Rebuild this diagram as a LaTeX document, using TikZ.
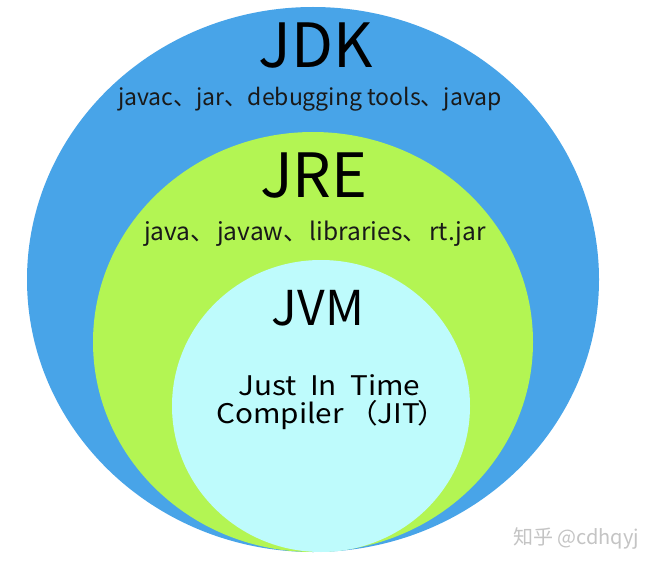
\documentclass[tikz,border=0pt]{standalone}
\usepackage{fontspec}
\setmainfont{Noto Sans CJK SC}
\newfontfamily\widefont[FakeStretch=1.1]{Noto Sans CJK SC}
\definecolor{jdkblue}{HTML}{48A4E8}
\definecolor{jregreen}{HTML}{B3F553}
\definecolor{jvmcyan}{HTML}{BEFBFC}
\definecolor{wmgray}{HTML}{C4C4C4}
\tikzset{
  title/.style={anchor=base, inner sep=0pt, text=black, font=\fontsize{61}{61}\selectfont},
  subtitle/.style={anchor=base, inner sep=0pt, text=black!90, font=\fontsize{23}{23}\selectfont},
  jvmtext/.style={anchor=base west, inner sep=0pt, text=black, font=\widefont\fontsize{27}{27}\selectfont},
  wmark/.style={anchor=base, inner sep=0pt, text=wmgray, font=\fontsize{20}{20}\selectfont}
}
\begin{document}
\begin{tikzpicture}[x=1pt,y=-1pt]
\useasboundingbox (0,0) rectangle (653,567);
\fill[white] (0,0) rectangle (653,567);
\fill[jdkblue] (313,279.5) ellipse [x radius=286pt, y radius=272.5pt];
\fill[jregreen] (313,342) ellipse [x radius=220pt, y radius=210pt];
\fill[jvmcyan] (321,406) ellipse [x radius=149pt, y radius=146pt];
\node[title] (jdk) at (316,68) {JDK};
\node[subtitle] (jdktools) at (310,106) {javac、jar、debugging tools、javap};
\node[title] (jre) at (314,197) {JRE};
\node[subtitle, anchor=base west, font=\fontsize{24.5}{24.5}\selectfont] (jretools) at (144,240) {java、\hspace{2pt}javaw、\hspace{2pt}libraries、\hspace{2pt}rt.jar};
\node[title, font=\fontsize{48}{48}\selectfont] (jvm) at (318,325) {JVM};
\node[jvmtext] (jit1) at (238,395) {Just\hspace{0.5em}In\hspace{0.5em}Time};
\node[jvmtext] (jit2) at (216,423) {Compiler\,（JIT\hspace{-3pt}）};
\node[wmark] (wm) at (576,544) {知乎 @cdhqyj};
\end{tikzpicture}
\end{document}
